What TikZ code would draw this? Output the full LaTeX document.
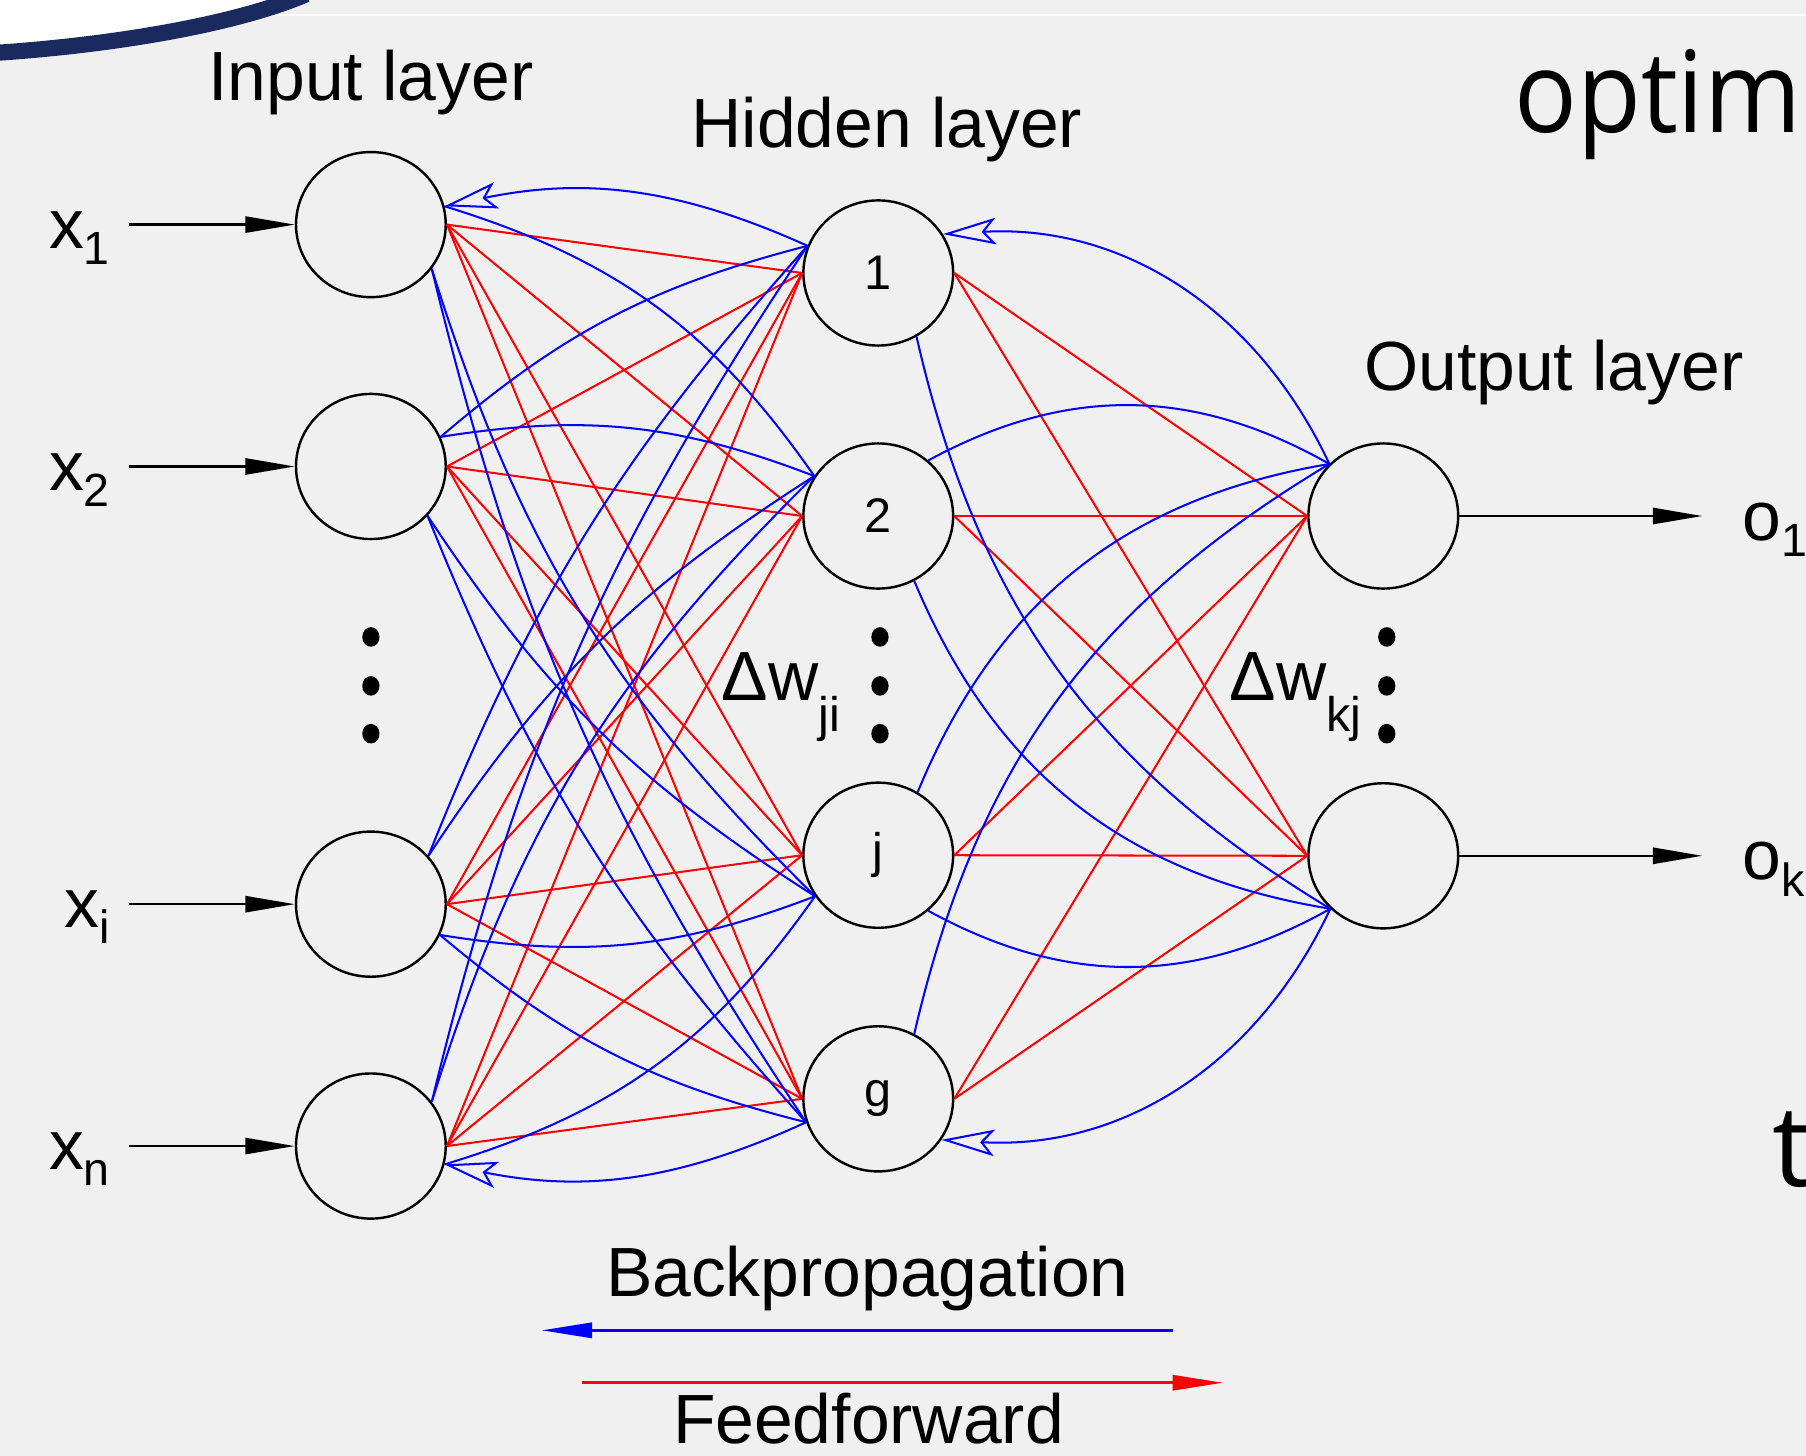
\documentclass[tikz,border=0pt]{standalone}
\usepackage{fontspec}
\setmainfont{Liberation Sans}
\newfontfamily\slidefont{Open Sans}
\usepackage{tikz}
\usetikzlibrary{arrows.meta,shapes.geometric}
\definecolor{slidebg}{HTML}{F0F0F0}
\definecolor{navy}{HTML}{1B2A5E}
\definecolor{bpblue}{HTML}{0000FF}
\definecolor{ffred}{HTML}{FF0000}
\newcommand{\lowsub}[1]{\raisebox{-0.14cm}{\fontsize{11.5}{12}\selectfont #1}}
\newcommand{\dwsub}[1]{\raisebox{-0.27cm}{\fontsize{12}{12}\selectfont #1}}

\begin{document}
\begin{tikzpicture}[x=1cm,y=1cm,font=\fontsize{17.2}{20}\selectfont,
  neuron/.style={draw,line width=0.6pt,ellipse,minimum width=1.30cm,
                 minimum height=1.26cm,inner sep=0pt,font=\fontsize{12}{14}\selectfont},
  ff/.style={ffred,line width=0.5pt},
  bp/.style={bpblue,line width=0.5pt},
  bptip/.style={-{Stealth[open,length=0.46cm,width=0.23cm,inset=0.1cm]}},
  feed/.style={line width=0.6pt,-{Triangle[length=0.43cm,width=0.14cm]}},
  sig/.style={line width=0.8pt,-{Triangle[length=0.44cm,width=0.13cm]}}]
  \useasboundingbox (0,0) rectangle (15.68,-12.64);
  \clip (0,0) rectangle (15.68,-12.64);
  \fill[slidebg] (0,0) rectangle (15.68,-12.64);
  % slide frame
  \draw[white,line width=0.3pt] (2.2,-0.13) -- (15.68,-0.13);
  \fill[white] (0,0) -- (0,-0.42) .. controls (1.0,-0.36) and (2.05,-0.19) .. (2.62,0.05) -- cycle;
  \draw[navy,line width=0.14cm] (-0.05,-0.46) .. controls (1.0,-0.39) and (2.05,-0.21) .. (2.66,0.05);
  \node[anchor=base west,inner sep=0pt,font=\slidefont\fontsize{28}{30}\selectfont]
    (optim) at (13.14,-1.152) {\scalebox{0.92}[1]{optim}};
  \node[anchor=base west,inner sep=0pt,font=\slidefont\fontsize{28}{30}\selectfont]
    (tword) at (15.38,-10.30) {t};

  % neurons
  \node[neuron] (I1) at (3.22,-1.95) {};
  \node[neuron] (I2) at (3.22,-4.05) {};
  \node[neuron] (Ii) at (3.22,-7.85) {};
  \node[neuron] (In) at (3.22,-9.95) {};
  \node[neuron] (H1) at (7.625,-2.37) {1};
  \node[neuron] (H2) at (7.625,-4.48) {2};
  \node[neuron] (Hj) at (7.625,-7.425) {j};
  \node[neuron] (Hg) at (7.625,-9.54) {g};
  \node[neuron] (O1) at (12.01,-4.48) {};
  \node[neuron] (Ok) at (12.01,-7.43) {};

  \node[anchor=base] (inlabel) at (3.22,-0.87) {Input layer};
  \node[anchor=base] (hidlabel) at (7.70,-1.28) {Hidden layer};
  \node[anchor=base] (outlabel) at (13.49,-3.39) {Output layer};

  \foreach \x in {3.22,7.64,12.04}
    \foreach \y in {-5.53,-5.955,-6.37}
      \fill (\x,\y) ellipse [x radius=0.075, y radius=0.085];

  % feedforward
  \foreach \a in {I1,I2,Ii,In}
    \foreach \b in {H1,H2,Hj,Hg}
      \draw[ff] (\a.east) -- (\b.west);
  \foreach \a in {H1,H2,Hj,Hg}
    \foreach \b in {O1,Ok}
      \draw[ff] (\a.east) -- (\b.west);

  % backpropagation, hidden to input
  \draw[bp,bptip] (H1.159) to[bend right=18] (I1.14);
  \draw[bp,bptip] (Hg.198) to[bend left=18] (In.346);
  \foreach \h/\i/\b in {H2.148/I1.14/19, H1.159/I2.23/13, H2.148/I2.23/15,
                        H1.159/Ii.40/10, H2.148/Ii.40/12, H1.159/In.36/10, H2.148/In.36/14}
    \draw[bp] (\h) to[bend right=\b] (\i);
  \foreach \h/\i/\b in {Hj.213/In.346/19, Hg.198/Ii.336/13, Hj.213/Ii.336/15,
                        Hg.198/I2.319/10, Hj.213/I2.319/12, Hg.198/I1.324/10, Hj.213/I1.324/14}
    \draw[bp] (\h) to[bend left=\b] (\i);

  % backpropagation, output to hidden
  \draw[bp,bptip] (O1.136) to[bend right=34] (H1.31);
  \draw[bp,bptip] (Ok.225) to[bend left=34] (Hg.327);
  \foreach \h/\b in {H2.48/29, Hj.58/29, Hg.61/23}
    \draw[bp] (O1.136) to[bend right=\b] (\h);
  \foreach \h/\b in {Hj.312/29, H2.299/29, H1.301/23}
    \draw[bp] (Ok.225) to[bend left=\b] (\h);

  % inputs and outputs
  \node[anchor=base east,inner sep=0pt] (x1) at (0.96,-2.155) {x\lowsub{1}};
  \node[anchor=base east,inner sep=0pt] (x2) at (0.96,-4.255) {x\lowsub{2}};
  \node[anchor=base east,inner sep=0pt] (xi) at (0.96,-8.055) {x\lowsub{i}};
  \node[anchor=base east,inner sep=0pt] (xn) at (0.96,-10.155) {x\lowsub{n}};
  \coordinate (x1in) at (1.12,-1.95);
  \coordinate (x2in) at (1.12,-4.05);
  \coordinate (xiin) at (1.12,-7.85);
  \coordinate (xnin) at (1.12,-9.95);
  \draw[feed] (x1in) -- (I1.west);
  \draw[feed] (x2in) -- (I2.west);
  \draw[feed] (xiin) -- (Ii.west);
  \draw[feed] (xnin) -- (In.west);
  \coordinate (o1out) at (14.78,-4.48);
  \coordinate (okout) at (14.78,-7.43);
  \draw[feed] (O1.east) -- (o1out);
  \draw[feed] (Ok.east) -- (okout);
  \node[anchor=base west,inner sep=0pt] (o1) at (15.12,-4.69) {o\lowsub{1}};
  \node[anchor=base west,inner sep=0pt] (ok) at (15.12,-7.64) {o\lowsub{k}};

  \node[anchor=base west,inner sep=0pt] (dwji) at (6.26,-6.08) {Δw\dwsub{ji}};
  \node[anchor=base west,inner sep=0pt] (dwkj) at (10.67,-6.08) {Δw\dwsub{kj}};

  % legend
  \node[anchor=base] (bplabel) at (7.53,-11.258) {Backpropagation};
  \coordinate (bpfrom) at (10.18,-11.55);
  \coordinate (bpto) at (4.70,-11.55);
  \draw[bpblue,sig] (bpfrom) -- (bpto);
  \coordinate (fffrom) at (5.05,-12.005);
  \coordinate (ffto) at (10.62,-12.005);
  \draw[ffred,sig] (fffrom) -- (ffto);
  \node[anchor=base,inner sep=0pt] (fflabel) at (7.54,-12.53) {Feedforward};
\end{tikzpicture}
\end{document}
